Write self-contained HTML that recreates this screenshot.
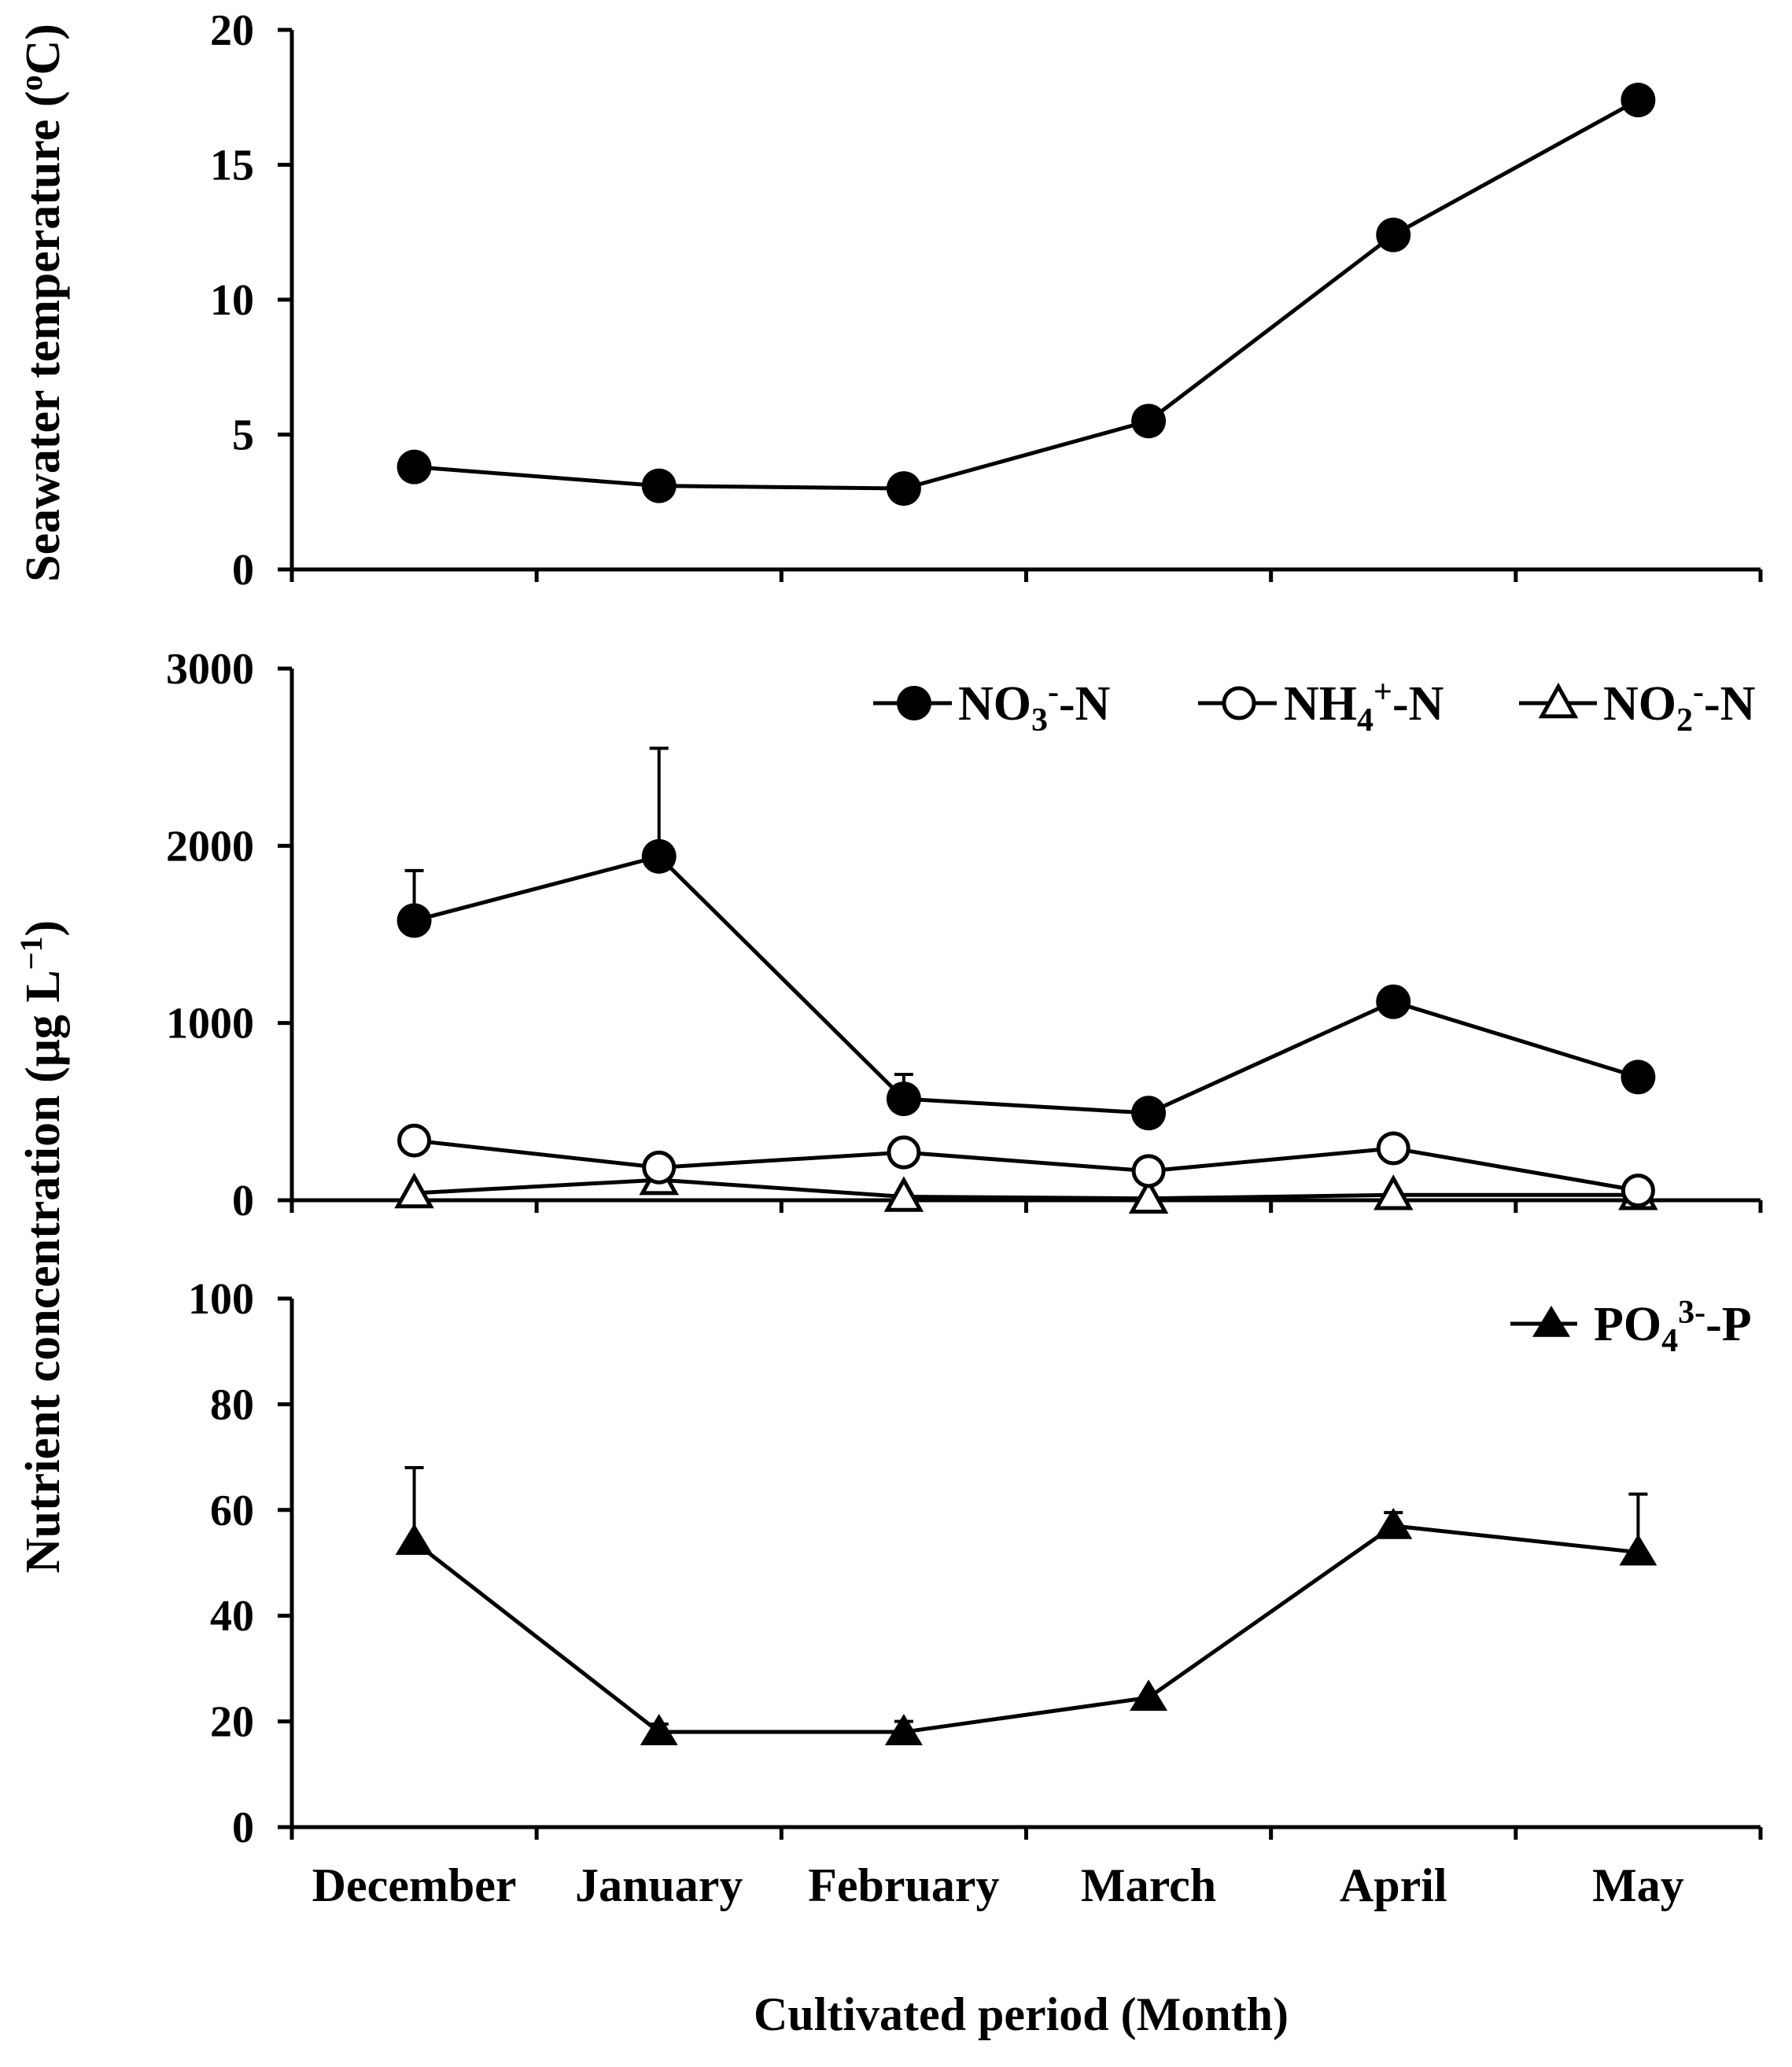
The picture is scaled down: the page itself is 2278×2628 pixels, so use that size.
<!DOCTYPE html>
<html><head><meta charset="utf-8">
<style>
html,body{margin:0;padding:0;background:#fff;}
svg{display:block;}
text{font-family:"Liberation Serif","Times New Roman",serif;font-weight:bold;fill:#000;}
</style></head>
<body>
<svg id="chart" width="2278" height="2628" viewBox="0 0 2278 2628" xmlns="http://www.w3.org/2000/svg">
<g id="root"></g>
</svg>
<script>
const months = ["December","January","February","March","April","May"];
const tempVals = [3.8, 3.1, 3.0, 5.5, 12.4, 17.4];
const tempTicks = [0,5,10,15,20];
const no3Vals = [1578, 1940, 572, 492, 1120, 695];
const no3Err = [1860, 2550, 710, null, null, null];
const nh4Vals = [337, 185, 270, 165, 293, 55];
const no2Vals = [40, 115, 20, 10, 30, 30];
const nTicks = [0,1000,2000,3000];
const po4Vals = [54, 18, 18, 24.5, 57, 52];
const po4Err = [68, 19.5, 20, null, 59.5, 63];
const pTicks = [0,20,40,60,80,100];

const NS="http://www.w3.org/2000/svg";
const root=document.getElementById('root');
function mk(tag,attrs,parent){const e=document.createElementNS(NS,tag);for(const k in attrs)e.setAttribute(k,attrs[k]);(parent||root).appendChild(e);return e;}

const X0=371, X1=2238, step=(X1-X0)/6;
function xPos(i){return X0+step*(i+0.5);}

function panel(name,y0px,ytop,vmax,ticks){
  const g=mk('g',{});
  
  
  const y=v=>y0px-(v/vmax)*(y0px-ytop);
  const ya=mk('line',{x1:X0,y1:ytop,x2:X0,y2:y0px+15,stroke:'#000','stroke-width':5},g);
  
  
  const xa=mk('line',{x1:X0-18,y1:y0px,x2:X1,y2:y0px,stroke:'#000','stroke-width':5},g);
  
  
  for(let i=0;i<=6;i++){
    const t=mk('line',{x1:X0+step*i,y1:y0px,x2:X0+step*i,y2:y0px+16,stroke:'#000','stroke-width':5},g);
    
    
  }
  ticks.forEach(v=>{
    const t=mk('line',{x1:X0-18,y1:y(v),x2:X0,y2:y(v),stroke:'#000','stroke-width':5},g);
    
    
    const l=mk('text',{x:X0-48,y:y(v)+19,'text-anchor':'end','font-size':56},g);
    l.textContent=v;
    
    
  });
  return {g,y};
}
function series(p,vals,err,marker,name){
  const g=mk('g',{},p.g);
  
  
  if(err)err.forEach((e,i)=>{ if(e==null)return;
    const l=mk('line',{x1:xPos(i),y1:p.y(vals[i]),x2:xPos(i),y2:p.y(e),stroke:'#000','stroke-width':4},g);
    
    
    const c=mk('line',{x1:xPos(i)-12,y1:p.y(e),x2:xPos(i)+12,y2:p.y(e),stroke:'#000','stroke-width':4},g);
    
    
  });
  const pl=mk('polyline',{points:vals.map((v,i)=>xPos(i)+','+p.y(v)).join(' '),fill:'none',stroke:'#000','stroke-width':5},g);
  
  
  vals.forEach((v,i)=>{const m=drawMarker(marker,xPos(i),p.y(v),g);
    
    });
}
function drawMarker(type,cx,cy,g){
  if(type==='fc')return mk('circle',{cx,cy,r:22,fill:'#000'},g);
  if(type==='oc')return mk('circle',{cx,cy,r:19,fill:'#fff',stroke:'#000','stroke-width':5},g);
  const s=21,pts=`${cx},${cy-s} ${cx+s},${cy+s*0.8} ${cx-s},${cy+s*0.8}`;
  if(type==='ot')return mk('polygon',{points:pts,fill:'#fff',stroke:'#000','stroke-width':5},g);
  return mk('polygon',{points:`${cx},${cy-s-2} ${cx+s+3},${cy+s*0.8} ${cx-s-3},${cy+s*0.8}`,fill:'#000'},g);
}
function legend(x1,x2,cx,tx,y,marker,html,name){
  const g=mk('g',{});
  
  
  mk('line',{x1,y1:y,x2,y2:y,stroke:'#000','stroke-width':5},g);
  drawMarker(marker,cx,y,g);
  const t=mk('text',{x:tx,y:y+21,'font-size':62},g);
  t.innerHTML=html;
}

const p1=panel('temperature-panel',724,38,20,tempTicks);
series(p1,tempVals,null,'fc','temperature-series');
const p2=panel('nitrogen-panel',1526,850,3000,nTicks);
series(p2,no2Vals,null,'ot','no2-series');
series(p2,nh4Vals,null,'oc','nh4-series');
series(p2,no3Vals,no3Err,'fc','no3-series');
const p3=panel('phosphate-panel',2323,1651,100,pTicks);
series(p3,po4Vals,po4Err,'ft','po4-series');

legend(1110,1210,1162,1218,894,'fc','NO<tspan font-size="42" dy="14">3</tspan><tspan font-size="42" dy="-36">-</tspan><tspan dy="22">-N</tspan>','legend-no3');
legend(1523,1623,1575,1632,894,'oc','NH<tspan font-size="42" dy="14">4</tspan><tspan font-size="42" dy="-36">+</tspan><tspan dy="22">-N</tspan>','legend-nh4');
legend(1931,2030,1981,2038,894,'ot','NO<tspan font-size="42" dy="14">2</tspan><tspan font-size="42" dy="-36">-</tspan><tspan dy="22">-N</tspan>','legend-no2');
legend(1920,2005,1972,2026,1683,'ft','PO<tspan font-size="42" dy="14">4</tspan><tspan font-size="42" dy="-36">3-</tspan><tspan dy="22">-P</tspan>','legend-po4');

months.forEach((m,i)=>{
  const t=mk('text',{x:xPos(i),y:2417,'text-anchor':'middle','font-size':60});
  t.textContent=m;
  
  
});
const xt=mk('text',{x:1298,y:2581,'text-anchor':'middle','font-size':60});
xt.textContent='Cultivated period (Month)';


const yt1=mk('text',{x:0,y:0,'text-anchor':'middle','font-size':62,transform:'translate(75,385) rotate(-90)'});
yt1.innerHTML='Seawater temperature (<tspan font-size="40" dy="-22">o</tspan><tspan dy="22">C)</tspan>';


const yt2=mk('text',{x:0,y:0,'text-anchor':'middle','font-size':62,transform:'translate(75,1585) rotate(-90)'});
yt2.innerHTML='Nutrient concentration (μg L<tspan font-size="40" dy="-22">−1</tspan><tspan dy="22">)</tspan>';


</script>
</body></html>
